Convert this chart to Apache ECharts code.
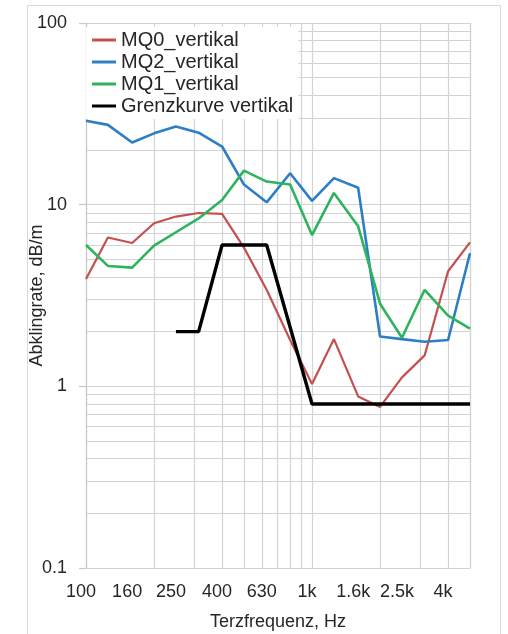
<!DOCTYPE html>
<html>
<head>
<meta charset="utf-8">
<script src="https://cdn.jsdelivr.net/npm/echarts@6/dist/echarts.min.js"></script>
<style>html,body{margin:0;padding:0;background:#fff}#c{width:508px;height:634px}</style>
</head>
<body>
<div id="c"></div>
<script>
// Third-octave band frequencies (Hz)
const freqs = [100,125,160,200,250,315,400,500,630,800,1000,1250,1600,2000,2500,3150,4000,5000];
// Decay rates, dB/m
const mq0 = [3.9,6.6,6.15,7.9,8.6,9.0,8.9,5.8,3.4,1.8,1.03,1.82,0.88,0.77,1.12,1.48,4.3,6.2];
const mq2 = [29,27.5,22,24.7,26.9,24.9,20.9,12.9,10.3,14.9,10.5,14,12.4,1.88,1.82,1.76,1.8,5.4];
const mq1 = [6.0,4.6,4.5,5.95,7.05,8.4,10.6,15.4,13.4,12.9,6.8,11.6,7.6,2.85,1.85,3.4,2.45,2.08];
const grenz = [null,null,null,null,2.0,2.0,6.0,6.0,6.0,null,0.8,0.8,0.8,0.8,0.8,0.8,0.8,0.8];
// Axis tick labels
const xTickValues = [100,160,250,400,630,1000,1600,2500,4000];
const xTickLabels = ['100','160','250','400','630','1k','1.6k','2.5k','4k'];
// Minor gridlines
const xGridValues = [200,300,400,500,600,700,800,900,2000,3000,4000,5000];
const yGridValues = [0.2,0.3,0.4,0.5,0.6,0.7,0.8,0.9,2,3,4,5,6,7,8,9,20,30,40,50,60,70,80,90];

const FONT = 'Liberation Sans, Arial, sans-serif';
const GRID_COLOR = '#d3d3d3';
const pairs = arr => freqs.map((f, i) => [f, arr[i]]);

const chart = echarts.init(document.getElementById('c'), null, {renderer: 'canvas'});
chart.setOption({
  animation: false,
  backgroundColor: '#fff',
  textStyle: {fontFamily: FONT},
  graphic: [{
    type: 'rect', z: -10, silent: true,
    shape: {x: 27.5, y: 5.5, width: 473, height: 640},
    style: {fill: 'none', stroke: '#d9d9d9', lineWidth: 1}
  }],
  grid: {left: 86, right: 38, top: 23, bottom: 66, containLabel: false, outerBoundsMode: 'none'},
  legend: {
    orient: 'vertical', left: 86, top: 27,
    backgroundColor: '#fff',
    padding: [3, 5, 3, 6],
    itemGap: 2,
    itemWidth: 24, itemHeight: 3,
    icon: 'rect',
    z: 20,
    textStyle: {fontSize: 20, color: '#262626', fontFamily: FONT},
    data: ['MQ0_vertikal', 'MQ2_vertikal', 'MQ1_vertikal', 'Grenzkurve vertikal']
  },
  xAxis: {
    type: 'log', logBase: 10, min: 100, max: 5000,
    name: 'Terzfrequenz, Hz', nameLocation: 'middle', nameGap: 45, nameMoveOverlap: false,
    nameTextStyle: {fontSize: 18, color: '#262626', fontFamily: FONT},
    axisLine: {show: true, lineStyle: {color: GRID_COLOR, width: 1.2}},
    axisTick: {show: false},
    splitLine: {show: true, lineStyle: {color: GRID_COLOR, width: 1.2}},
    axisLabel: {
      customValues: xTickValues,
      margin: 15,
      fontSize: 18, color: '#262626', fontFamily: FONT,
      padding: [0, 10, 0, 0],
      formatter: v => {
        let best = 0, d = Infinity;
        xTickValues.forEach((t, i) => { const dd = Math.abs(Math.log(t) - Math.log(v)); if (dd < d) { d = dd; best = i; } });
        return xTickLabels[best];
      }
    }
  },
  yAxis: {
    type: 'log', logBase: 10, min: 0.1, max: 100,
    name: 'Abklingrate, dB/m', nameLocation: 'middle', nameGap: 40, nameRotate: 90, nameMoveOverlap: false,
    nameTextStyle: {fontSize: 18, color: '#262626', fontFamily: FONT},
    axisLine: {show: true, lineStyle: {color: '#c8c8c8', width: 1.2}},
    axisTick: {show: true, inside: false, length: 7, lineStyle: {color: '#c8c8c8', width: 1.2}},
    splitLine: {show: true, lineStyle: {color: GRID_COLOR, width: 1.2}},
    axisLabel: {
      margin: 19, fontSize: 18, color: '#262626', fontFamily: FONT,
      formatter: v => (v < 1 ? String(Math.round(v * 10) / 10) : String(Math.round(v)))
    }
  },
  series: [
    {
      name: '__grid', type: 'line', data: [], z: 0, silent: true,
      markLine: {
        silent: true, symbol: 'none', label: {show: false}, z: 0,
        lineStyle: {color: GRID_COLOR, width: 1.2, type: 'solid'},
        emphasis: {disabled: true},
        data: xGridValues.map(v => ({xAxis: v})).concat(yGridValues.map(v => ({yAxis: v})))
      }
    },
    {name: 'MQ0_vertikal', type: 'line', data: pairs(mq0), showSymbol: false, symbol: 'none',
     lineStyle: {color: '#c4504f', width: 2.2}, itemStyle: {color: '#c4504f'}, z: 3},
    {name: 'MQ2_vertikal', type: 'line', data: pairs(mq2), showSymbol: false, symbol: 'none',
     lineStyle: {color: '#2e7ec3', width: 2.6}, itemStyle: {color: '#2e7ec3'}, z: 3},
    {name: 'MQ1_vertikal', type: 'line', data: pairs(mq1), showSymbol: false, symbol: 'none',
     lineStyle: {color: '#2eb35e', width: 2.6}, itemStyle: {color: '#2eb35e'}, z: 3},
    {name: 'Grenzkurve vertikal', type: 'line', data: pairs(grenz), showSymbol: false, symbol: 'none',
     connectNulls: true,
     lineStyle: {color: '#000000', width: 3.4}, itemStyle: {color: '#000000'}, z: 4}
  ]
});
</script>
</body>
</html>
